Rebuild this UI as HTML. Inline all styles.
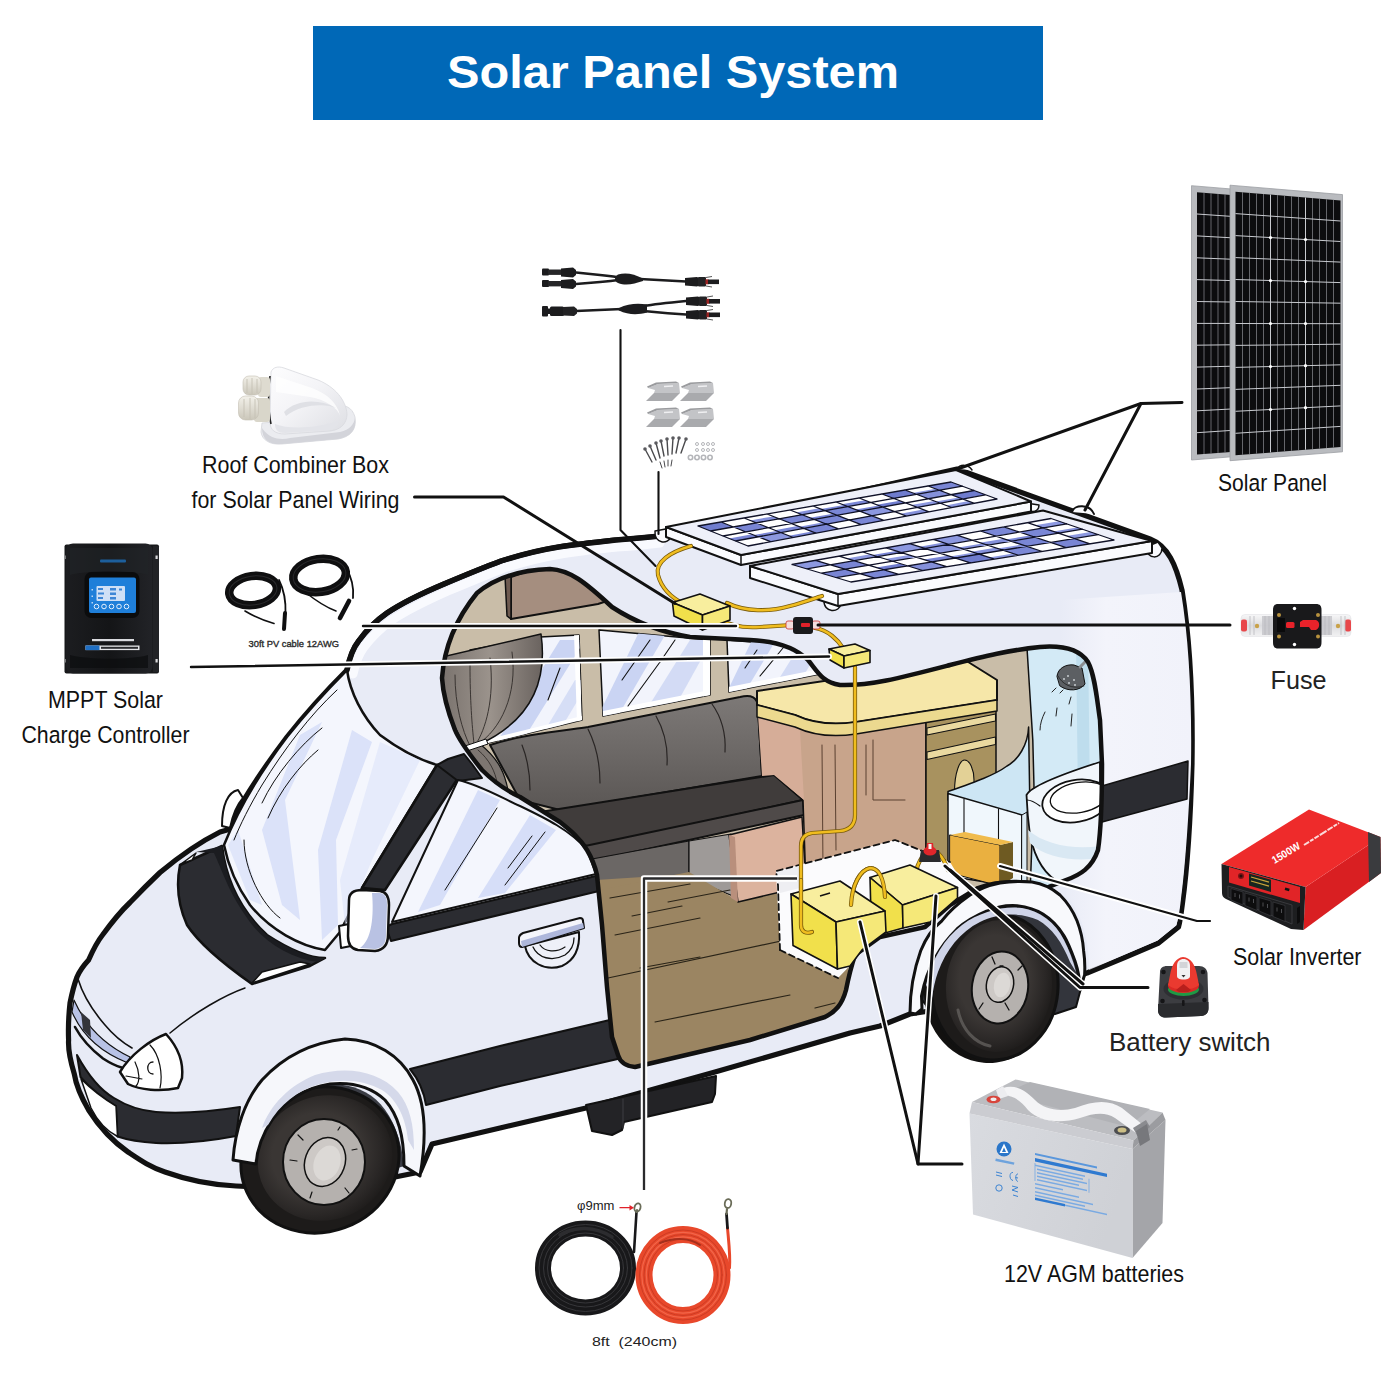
<!DOCTYPE html>
<html><head><meta charset="utf-8"><title>Solar Panel System</title>
<style>
html,body{margin:0;padding:0;background:#fff;}
body{width:1400px;height:1400px;overflow:hidden;font-family:"Liberation Sans",sans-serif;}
svg{display:block;}
text{font-family:"Liberation Sans",sans-serif;}
</style></head><body>
<svg width="1400" height="1400" viewBox="0 0 1400 1400">
<defs>
<linearGradient id="gGlass" x1="0" y1="0" x2="1" y2="0.4">
<stop offset="0" stop-color="#ffffff"/><stop offset="0.35" stop-color="#dfe5f8"/><stop offset="0.6" stop-color="#ffffff"/><stop offset="1" stop-color="#cfd8f4"/>
</linearGradient>
</defs>
<rect x="0" y="0" width="1400" height="1400" fill="#ffffff"/>
<!-- banner -->
<rect x="313" y="26" width="730" height="94" fill="#0068b7"/>
<text x="673" y="88" font-size="46" font-weight="bold" fill="#ffffff" text-anchor="middle" textLength="452" lengthAdjust="spacingAndGlyphs">Solar Panel System</text>
<!-- ===== VAN BODY ===== -->
<g id="van" stroke-linejoin="round" stroke-linecap="round">
<!-- body silhouette -->
<path id="bodyshape" d="M347,670 C350,655 353,648 358.600,641 C368,628 377,620 387,613 C405,601 425,592 444,584 C463,576 482,568 501,561 C520,555 540,550 558.600,547 C578,544 597,542 615.700,540 C630,539 643,538 660,536 L957,469 L1150,539
C1168,546 1176,565 1182,590 C1190,640 1193,700 1192,764 C1190.500,820 1187,870 1182.500,903 C1181,915 1180,922 1178.500,927 L1158.600,943 L1125.700,957 L1087,973
L1000,1000 L910,1014 L880,1026 L850,1033 L715,1072 L586,1108 L500,1128 L432,1144 L420,1172 L330,1190 L236,1186
C215,1185 190,1181 165,1172 C150,1167 140,1160 128,1152 C115,1143 100,1128 88.600,1110 C80,1095 76,1085 74.300,1074 C70,1060 68,1050 68.600,1040 C68,1025 69,1012 70,1003 C72,993 74,985 77,977 C80,970 84,965 88.600,960 C93,950 97,942 102.500,935 C112,922 120,912 130,902.500 C140,892 150,882 160,872.500 C175,860 200,842 220,832
L227,830 C240,805 262,770 287,737 C310,708 335,682 347,670 Z" fill="#e8ebf6" stroke="#111" stroke-width="5.2"/>

<!-- roof highlight + thick roof line -->
<path d="M353,674 C356,660 359,654 364,647 C373,635 382,627 392,620 C410,608 430,599 448,591 C467,583 486,575 504,568 C523,562 543,557 561,554 C580,551 599,549 617,547 C632,546 645,545 660,543" fill="none" stroke="#fbfcff" stroke-width="9" opacity=".9"/>
<path d="M347,670 C350,655 353,648 358.600,641 C368,628 377,620 387,613 C405,601 425,592 444,584 C463,576 482,568 501,561 C520,555 540,550 558.600,547 C578,544 597,542 615.700,540 C630,539 643,538 660,536" fill="none" stroke="#111" stroke-width="5.5"/>
<path d="M1150,539 C1168,546 1176,565 1182,590 C1190,640 1193,700 1192,764 C1190,830 1185,880 1177,914" fill="none" stroke="#fbfcff" stroke-width="0"/>
<!-- windshield glass -->
<path d="M347,670 C350,692 362,716 380,735 C400,750 420,760 437,765 L362,888 L340,932 L325,950 C300,946 270,930 250,905 C236,885 228,865 224,845 C240,805 262,770 287,737 C310,708 335,682 347,670Z" fill="#f4f6fd" stroke="#111" stroke-width="2.5"/>
<!-- glass streaks -->
<g fill="#dbe2f9" stroke="none">
<path d="M300,735 L322,722 L285,800 L300,920 L282,905 L262,830 Z"/>
<path d="M352,730 L372,742 L336,840 L338,925 L322,940 L318,850 Z"/>
<path d="M228,845 L238,830 L262,905 L250,900 Z" opacity=".8"/>
<path d="M380,742 L420,760 L372,860 L345,925 L340,880 Z" opacity=".55"/>
</g>
<path d="M337,690 C310,715 285,748 262,785 C250,805 240,825 234,840" fill="none" stroke="#111" stroke-width="1"/>
<g fill="none" stroke="#111" stroke-width="1">
<path d="M262,803 C275,775 300,745 322,728"/><path d="M268,818 C280,790 300,765 318,750"/>
<path d="M244,840 C244,870 262,905 280,918"/>
</g>
<!-- cowl -->
<path d="M180,865 L222,846 C226,880 240,910 267,935 C290,950 310,958 325,958 L310,966 L252,984 C225,965 200,945 187,925 C178,905 176,885 180,865Z" fill="#2b2c31" stroke="#111" stroke-width="2.5"/>
<path d="M196,852 L222,846 C226,880 240,910 267,935 C290,950 310,958 325,958 L318,962 C290,958 262,942 245,915 C228,890 222,870 214,853Z" fill="#1b1c20"/>
<path d="M252,983 L310,964 L300,962 L262,972Z" fill="#fff" stroke="#111" stroke-width="1.5"/>
<path d="M181,864 L196,853 L192,860Z" fill="#fff" stroke="#111" stroke-width="1.5"/>
<!-- far mirror -->
<path d="M222,826 C222,805 228,792 238,790 L243,798 C236,806 232,818 230,828Z" fill="#fff" stroke="#111" stroke-width="2"/>
<!-- A pillar + door window frame -->
<path d="M437,765 L460,775 L385,890 L362,888Z" fill="#2b2c31" stroke="#111" stroke-width="2.5"/>
<path d="M437,765 L448,759 L464,754 L472,764 L482,778 L458,781Z" fill="#2b2c31" stroke="#111" stroke-width="2"/>
<!-- door window glass -->
<path d="M458,780 C480,785 500,797 520,806 C545,818 570,830 587,850 L596,874 L392,922Z" fill="#f4f6fd" stroke="#111" stroke-width="2"/>
<g fill="#d6def8">
<path d="M478,790 L500,800 L440,905 L418,912Z"/>
<path d="M530,815 L556,830 L505,893 L478,898Z"/>
</g>
<g fill="none" stroke="#111" stroke-width="1"><path d="M497,808 L445,890"/><path d="M545,832 L505,885"/><path d="M532,836 L508,868"/></g>
<!-- beltline black stripe -->
<path d="M392,924 L596,876 L599,891 L391,941 L386,927Z" fill="#2b2c31" stroke="#111" stroke-width="2"/>
<!-- lower black stripe -->
<path d="M410,1069 L500,1046 L614,1019 L622,1058 L500,1086 L426,1105 C424,1092 419,1080 410,1069Z" fill="#2b2c31" stroke="#111" stroke-width="2"/>
<!-- bumper band -->
<path d="M77,1055 C88,1075 100,1090 114,1098 C130,1108 145,1111 156,1112 C185,1114 215,1111 240,1107 L236,1136 C210,1141 180,1144 156,1143 C140,1142 128,1140 117.500,1136.500 L116,1106 C102,1098 90,1088 80.500,1077Z" fill="#2b2c31" stroke="#111" stroke-width="2"/>
<path d="M81,1079 C92,1090 104,1099 116,1106 L117.500,1136.500 C105,1130 97,1120 91,1108Z" fill="#fff" stroke="#111" stroke-width="1.5"/>
<!-- grille -->
<path d="M74,1000 C85,1025 105,1045 130,1057 L128,1063 C100,1052 82,1035 72,1012Z" fill="#b8c2e6" stroke="#111" stroke-width="1.2"/>
<path d="M81,1012 L90,1020 L91,1038 L83,1030Z" fill="#33343a"/>
<path d="M75,1027 C82,1040 92,1050 103,1058.500 C110,1063 116,1066 121.500,1067.500" fill="none" stroke="#111" stroke-width="2.600"/>
<path d="M78,979 C82,992 92,1010 105,1025 C115,1037 125,1044 132,1048" fill="none" stroke="#111" stroke-width="1.600"/>
<!-- hood crease -->
<path d="M245,988 C225,995 195,1012 170,1033" fill="none" stroke="#111" stroke-width="1.5"/>
<!-- headlight -->
<path d="M120,1072 C130,1055 150,1040 166,1034 C176,1045 184,1060 182,1078 L178,1088 C160,1092 140,1090 128,1084Z" fill="#fff" stroke="#111" stroke-width="2.5"/>
<path d="M150,1045 C160,1055 163,1075 160,1088" fill="none" stroke="#111" stroke-width="1.2"/>
<path d="M135,1062 C140,1072 140,1082 136,1086 M126,1076 L142,1079" fill="none" stroke="#111" stroke-width="1.2"/>
<path d="M153,1062 C146,1062 146,1074 153,1074" fill="none" stroke="#111" stroke-width="1.3"/>
<!-- near mirror -->
<path d="M339,926 L349,924 L351,946 L341,948Z" fill="#fff" stroke="#111" stroke-width="2"/>
<path d="M349,900 C349,893 354,890 362,890 L380,891 C387,892 389,897 389,905 L388,935 C388,945 384,950 375,951 L358,950 C351,949 348,944 348,936Z" fill="#fff" stroke="#111" stroke-width="2.5"/>
<path d="M372,893 L380,893 C386,894 387,898 387,905 L386,935 C386,943 383,948 375,949 L360,948 C372,940 374,915 372,893Z" fill="#b9c2e3"/>
<!-- door handle -->
<path d="M525,946 C528,962 545,972 562,966 C575,960 580,948 579,932Z" fill="#eef0f8" stroke="#111" stroke-width="2"/>
<path d="M533,947 C538,958 552,962 565,955 C572,950 574,944 574,938" fill="none" stroke="#111" stroke-width="1.3"/>
<path d="M540,945 C545,952 556,953 565,947" fill="none" stroke="#111" stroke-width="1.2"/>
<path d="M519,938 C519,935 521,934 523,933 L580,918 C582,918 583,919 583,921 L584,928 L522,947 C520,947 519,945 519,943Z" fill="#f4f5fb" stroke="#111" stroke-width="2"/>
<path d="M521,941 L583,923 L584,928 L522,947Z" fill="#aeb7db"/>
<defs><linearGradient id="gRear" x1="0" y1="0" x2="1" y2="0"><stop offset="0" stop-color="#f3f4fb" stop-opacity="0"/><stop offset="0.35" stop-color="#f3f4fb" stop-opacity="1"/><stop offset="1" stop-color="#f1f2fa" stop-opacity="1"/></linearGradient></defs>
<path d="M1060,600 L1181,592 C1189,640 1192,700 1191,764 C1188.500,820 1185,870 1180.500,903 C1179,915 1178,920 1176.500,925 L1157.600,940.500 L1125,954.500 L1089,970 C1090,940 1080,910 1066,895 L1066,880 C1090,872 1098,860 1100,840 L1102,764 L1100,720 C1097,690 1095,670 1088,662 C1080,650 1070,646 1060,646Z" fill="url(#gRear)"/>
<!-- rear stripe -->
<path d="M1102,786 L1188,761 L1187,799 L1102,822Z" fill="#2b2c31" stroke="#111" stroke-width="1.5"/>
</g>
<!-- ===== CUTAWAY INTERIOR ===== -->
<defs>
<path id="cutpath" d="M442,678 C444,650 455,620 477,593 C495,578 520,570 550,569 C570,570 585,582 612,607 C635,622 660,632 690,637 L750,640 C775,641 795,647 808,660 C818,672 822,682 840,685 C870,686 900,678 950,665 C985,656 1010,650 1040,647 C1065,645 1080,650 1088,662 C1095,675 1097,700 1100,720 L1102,764 C1102,800 1101,830 1098,850 C1092,868 1080,875 1066,880 L1046,888 C1030,880 1000,880 978,888 L950,905 L925,927 L880,937 L855,955 C850,970 848,980 846,990 C842,1005 835,1012 825,1017 L750,1040 L635,1067 C625,1066 620,1062 618,1055 L612,1037 L607,987 L602,925 L597,875 C594,862 590,855 587,850 C580,838 570,830 560,822 L520,797 C505,790 492,780 482,770 C470,755 460,742 455,730 C448,712 443,695 442,678Z"/>
<clipPath id="cutclip"><use href="#cutpath"/></clipPath>
<linearGradient id="gBack" x1="0" y1="0" x2="0" y2="1"><stop offset="0" stop-color="#7d7977"/><stop offset="0.5" stop-color="#6c6866"/><stop offset="1" stop-color="#5a5654"/></linearGradient>
<linearGradient id="gWin" x1="0" y1="0" x2="1" y2="1"><stop offset="0" stop-color="#ffffff"/><stop offset="0.45" stop-color="#e9edfb"/><stop offset="0.55" stop-color="#ccd5f3"/><stop offset="0.7" stop-color="#f5f7fe"/><stop offset="1" stop-color="#c9d3f2"/></linearGradient>
<linearGradient id="gCurt" x1="0" y1="0" x2="1" y2="0"><stop offset="0" stop-color="#77706b"/><stop offset="0.5" stop-color="#9b938c"/><stop offset="1" stop-color="#6a635f"/></linearGradient>
</defs>
<g clip-path="url(#cutclip)" stroke-linejoin="round" stroke-linecap="round">
<rect x="430" y="560" width="700" height="520" fill="#c9bda8"/>
<!-- overhead cabinet -->
<path d="M511,577 L560,560 L610,600 L598,604 L511,619Z" fill="#a58e7f" stroke="#111" stroke-width="2"/>
<path d="M505,576 L511,577 L511,619 L507,616Z" fill="#6e5a50" stroke="#111" stroke-width="1.5"/>
<!-- windows -->
<clipPath id="w1c"><path d="M470,650 L540,637 L579,635 L582,720 L480,745Z"/></clipPath>
<clipPath id="w2c"><path d="M599,630 L710,640 L710,695 L603,716Z"/></clipPath>
<clipPath id="w3c"><path d="M727,640 L830,648 L830,672 L729,692Z"/></clipPath>
<path d="M470,650 L540,637 L579,635 L582,720 L480,745Z" fill="#f2f4fc" stroke="#111" stroke-width="1.500"/>
<g clip-path="url(#w1c)"><path d="M560,640 L585,640 L520,745 L495,745Z" fill="#cad4f3"/><path d="M575,680 L590,680 L560,730 L545,730Z" fill="#cad4f3" opacity=".7"/>
<path d="M574,634 L579,634 L582,721 L577,722Z" fill="#fff"/><path d="M480,741 L582,716 L582,721 L480,746Z" fill="#fff"/></g>
<path d="M599,630 L710,640 L710,695 L603,716Z" fill="#f2f4fc" stroke="#111" stroke-width="1.500"/>
<g clip-path="url(#w2c)"><path d="M640,630 L668,630 L618,716 L598,716Z" fill="#cad4f3"/><path d="M690,640 L712,640 L672,712 L645,712Z" fill="#cad4f3" opacity=".8"/>
<path d="M703,638 L710,638 L710,696 L703,697Z" fill="#fff"/><path d="M603,711 L710,690 L710,696 L603,717Z" fill="#fff"/></g>
<path d="M727,640 L830,648 L830,672 L729,692Z" fill="#f2f4fc" stroke="#111" stroke-width="1.500"/>
<g clip-path="url(#w3c)"><path d="M752,640 L776,640 L745,692 L727,692Z" fill="#cad4f3"/><path d="M800,645 L822,645 L795,690 L772,690Z" fill="#cad4f3" opacity=".8"/>
<path d="M729,687 L830,667 L830,673 L729,693Z" fill="#fff"/></g>
<g stroke="#111" stroke-width="1.100" fill="none"><path d="M650,640 L622,680"/><path d="M675,640 L660,662"/><path d="M660,662 L628,706"/><path d="M560,668 L548,700"/><path d="M757,650 L745,668"/><path d="M783,648 L760,676"/></g>
<!-- curtain -->
<path d="M438,658 L541,634 C549,690 522,725 478,745 L466,748 C450,720 436,690 438,658Z" fill="url(#gCurt)" stroke="#111" stroke-width="1.5"/>
<path d="M466,748 L480,744 C500,760 505,775 508,790 L480,775 C470,765 465,757 466,748Z" fill="#7d7671" stroke="#111" stroke-width="1.2"/>
<g stroke="#3a3532" stroke-width="1" fill="none"><path d="M470,665 C470,700 472,725 474,744"/><path d="M490,658 C495,700 485,730 476,744"/><path d="M512,652 C518,695 500,730 478,744"/><path d="M455,675 C455,705 462,730 470,746"/><path d="M478,750 C490,760 495,772 497,782"/></g>
<path d="M465,746 L486,739 L488,744 L467,751Z" fill="#fff" stroke="#111" stroke-width="1"/>
<!-- bench back -->
<path d="M490,745 C520,735 560,731 588,727 L740,697 C752,694 757,698 758,706 L762,776 L560,810 L520,800Z" fill="url(#gBack)" stroke="#111" stroke-width="2"/>
<g stroke="#2a2625" stroke-width="1.2" fill="none"><path d="M588,729 C596,745 600,765 600,783"/><path d="M656,716 C664,730 668,748 667,765"/><path d="M712,704 C722,718 726,735 725,752"/><path d="M522,745 C528,760 530,775 530,790"/></g>
<!-- seat top -->
<path d="M540,812 L774,775 L803,800 L588,847Z" fill="#403c3b" stroke="#111" stroke-width="2"/>
<path d="M585,846 L803,800 L804,815 L592,861Z" fill="#4f4a49" stroke="#111" stroke-width="2"/>
<!-- bench base -->
<path d="M592,859 L689,841 L689,883 L604,896Z" fill="#6b6765" stroke="#111" stroke-width="1.2"/>
<path d="M689,841 L731,834 L733,896 L689,878Z" fill="#9e9a98" stroke="#111" stroke-width="1.2"/>
<!-- floor -->
<path d="M596,880 L689,874 L738,902 L806,886 L846,900 L850,1030 L600,1085Z" fill="#9b8562"/>
<path d="M600,890 L689,872 L740,902 L810,884 L780,870 L780,950 L850,990 L850,1045 L600,1090Z" fill="#9b8562"/>
<g stroke="#2a2418" stroke-width="1.2" fill="none"><path d="M610,898 L690,884"/><path d="M632,916 L682,906"/><path d="M668,902 L730,890"/><path d="M615,935 L700,918"/><path d="M640,968 L700,957"/><path d="M655,1022 L790,995"/><path d="M608,978 L795,938"/><path d="M815,1008 L835,1003"/></g>
<!-- pink cabinet -->
<path d="M729,835 L802,817 L806,886 L738,902Z" fill="#dcb39e" stroke="#111" stroke-width="1.5"/>
<path d="M729,835 L735,837 L738,902 L731,898Z" fill="#b98f7c"/>
<!-- big cabinet body -->
<path d="M757,700 L926,690 L926,880 L806,886 L803,800 L774,775 L762,776Z" fill="#c8a48b" stroke="#111" stroke-width="1.5"/>
<path d="M757,700 L800,730 L804,800 L774,775 L762,776Z" fill="#d6ad98"/>
<g stroke="#5a4030" stroke-width="1" fill="none"><path d="M822,745 L823,870"/><path d="M835,745 L836,850"/><path d="M873,740 L873,800 L905,800"/><path d="M866,745 L866,795"/></g>
<!-- drawer unit -->
<path d="M926,700 L996,690 L996,860 L926,870Z" fill="#a8925f" stroke="#111" stroke-width="1.500"/>
<path d="M927,728 L995.500,714 L995.500,721 L927,735Z" fill="#ead9a0" stroke="#111" stroke-width="1.100"/>
<path d="M927,752 L995.500,737 L995.500,744.500 L927,759.500Z" fill="#ead9a0" stroke="#111" stroke-width="1.100"/>
<path d="M927,722 L995.500,708" stroke="#6e5c30" stroke-width="1" fill="none"/>
<path d="M954.500,792 C954.500,772 960,760 964.500,760 C970,760 974,770 974,780 L974,800 L954.500,806Z" fill="#e3d196" stroke="#111" stroke-width="1.100"/>
<!-- countertop -->
<path d="M757,691 L965,660 L997,680 L997,700 L856,722 C830,726 810,722 795,715 L757,705Z" fill="#f6e7a9" stroke="#111" stroke-width="2"/>
<path d="M757,705 L795,715 C810,722 830,726 856,722 L997,700 L997,711 L856,734 C830,738 810,734 795,727 L757,717Z" fill="#ecd98f" stroke="#111" stroke-width="1.5"/>
<!-- bathroom -->
<path d="M1026.500,640 L1110,640 L1110,895 L1030,895 L1034,787 L1032.800,740Z" fill="#d3eaf6" stroke="#111" stroke-width="1.500"/>
<path d="M1076,640 L1088,640 L1090,800 L1078,800Z" fill="#bedded"/>
<!-- bath top (curved) -->
<path d="M1028.600,727 C1028,745 1018,760 1007,766 C995,775 975,782 948,791.500 L948,800 L1022,818 L1030,815Z" fill="#cde6f4" stroke="#111" stroke-width="1.500"/>
<!-- shower -->
<path d="M1057,676 C1058,668 1066,664 1074,665 L1082,668 L1085,684 C1080,691 1068,692 1060,686Z" fill="#5c5f63" stroke="#111" stroke-width="1"/>
<path d="M1058,676 C1062,684 1072,690 1084,686" fill="none" stroke="#222" stroke-width="0.800"/>
<g fill="#c9cdd1"><circle cx="1064" cy="679" r="1"/><circle cx="1069" cy="683" r="1"/><circle cx="1075" cy="685" r="1"/><circle cx="1068" cy="676" r="1"/><circle cx="1074" cy="680" r="1"/></g>
<path d="M1080,667 L1089,658" stroke="#8b8e92" stroke-width="3"/>
<g stroke="#222" stroke-width="1" fill="none"><path d="M1052,692 L1056,688"/><path d="M1060,693 L1063,690"/><path d="M1071,697 L1069,704"/><path d="M1057,708 L1056,716"/><path d="M1072,714 L1071,726"/><path d="M1045,712 C1042,718 1040,724 1040,730"/></g>
<!-- bath low wall -->
<path d="M948,793.500 L1022,815 L1022,888 L948,876Z" fill="#f0f7fc" stroke="#111" stroke-width="1.500"/>
<path d="M1022,815 L1027,812 L1027,888 L1022,888Z" fill="#dcebf4" stroke="#111" stroke-width="1"/>
<path d="M964,799 L964,850 M998.500,809 L998.500,860" stroke="#111" stroke-width="1.100" fill="none"/>
<!-- toilet -->
<path d="M1026.500,795 C1030,788 1050,778 1100,762 L1100,892 L1062,884 C1045,876 1035,860 1030,835 C1028,820 1027,808 1026.500,795Z" fill="#f1f6fb" stroke="#111" stroke-width="1.800"/>
<path d="M1028,830 C1045,845 1075,850 1100,846 L1100,858 C1075,862 1045,858 1030,843Z" fill="#d9e8f3"/>
<ellipse cx="1076" cy="801" rx="34" ry="21" fill="#fff" stroke="#111" stroke-width="1.800" transform="rotate(-10 1076 801)"/>
<ellipse cx="1079" cy="797.500" rx="29" ry="15" fill="#fff" stroke="#111" stroke-width="1.300" transform="rotate(-10 1079 797.500)"/>
<path d="M1027,800 C1031,800 1036,803 1040,806" stroke="#111" stroke-width="1.200" fill="none"/>
<!-- orange box -->
<path d="M950,835 L1000,845 L1000,886 L950,873Z" fill="#eab040" stroke="#111" stroke-width="1"/>
<path d="M1000,845 L1013,842 L1013,878 L1000,886Z" fill="#6e5a22"/>
<path d="M950,835 L965,832 L1013,842 L1000,845Z" fill="#f0bb4c"/>
<!-- white battery compartment -->
<path d="M776,871 L895,840 L950,862 L968,892 L940,925 L870,945 L838,978 L780,950Z" fill="#fbfbfd"/>
<path d="M776,871 L800,866 L800,888 L780,893Z" fill="#eeeef2"/>
<path d="M780,950 L778,885 L776,871 L895,840 L950,862" fill="none" stroke="#111" stroke-width="1.8" stroke-dasharray="6 4"/>
<path d="M780,950 L838,978" fill="none" stroke="#111" stroke-width="1.8" stroke-dasharray="6 4"/>
</g>
<use href="#cutpath" fill="none" stroke="#111" stroke-width="4.5" stroke-linejoin="round"/>
<!-- ===== WHEELS & FENDERS ===== -->
<defs>
<radialGradient id="gTire" cx="0.45" cy="0.45" r="0.6"><stop offset="0.55" stop-color="#3a3634"/><stop offset="0.8" stop-color="#2a2726"/><stop offset="1" stop-color="#1b1918"/></radialGradient>
</defs>
<g stroke-linejoin="round" stroke-linecap="round">
<!-- rear wheel well -->
<path d="M922,1000 C928,955 950,925 987,911 C1010,903 1030,906 1043,914 C1055,922 1066,938 1075,961 C1080,975 1082,985 1084,977 L1076,1007 L1055,1014 L940,1022Z" fill="#33353c" stroke="#111" stroke-width="2"/>
<!-- rear tire -->
<ellipse cx="990" cy="990" rx="66" ry="73" fill="#121110" transform="rotate(5 990 990)"/>
<ellipse cx="995" cy="987" rx="63" ry="73" fill="#1d1b1a" stroke="#111" stroke-width="3" transform="rotate(5 995 987)"/>
<ellipse cx="999" cy="986" rx="53" ry="66" fill="url(#gTire)" transform="rotate(5 999 986)"/>
<path d="M958,1010 C962,1030 975,1043 990,1046" fill="none" stroke="#6a6664" stroke-width="3" stroke-linecap="round" opacity=".7"/>
<ellipse cx="1000" cy="987.500" rx="28" ry="36" fill="#b5b1ae" stroke="#111" stroke-width="2" transform="rotate(8 1000 987.500)"/>
<ellipse cx="1000" cy="984.500" rx="13.500" ry="18" fill="#cdc9c6" stroke="#111" stroke-width="1.500" transform="rotate(12 1000 984.500)"/>
<ellipse cx="1002" cy="985" rx="8" ry="12.500" fill="#dcd9d6" transform="rotate(12 1002 985)"/>
<g stroke="#111" stroke-width="1.300"><path d="M992,957 L995,964"/><path d="M1018,970 L1022,966"/><path d="M1005,1003 L1009,1010"/><path d="M983,1003 L979,1009"/><path d="M1000,966 L1003,966"/></g>
<!-- rear fender flare -->
<path d="M910,1013 C910,995 912,975 920.700,950.700 C927,935 934,927 942,920.700 C950,910 960,902 970,895 C980,888 990,885 1000,883 C1012,881 1022,881 1032,882 C1045,884 1053,889 1060,895 C1068,903 1073,911 1077,920.700 C1081,931 1083,941 1083.600,950.700 C1085,960 1085,968 1084.600,975 L1080,989 C1080,980 1078,970 1075,961 C1071,950 1068,942 1064,935.700 C1058,926 1051,919 1042.900,914 C1035,909 1027,907 1017,905.700 C1006,905 996,907 987,911 C975,916 965,922 957,929 C948,938 941,947 935.700,957 C928,970 924,983 921.500,996 L922,1009 L916,1014Z" fill="#f8f9fc" stroke="#111" stroke-width="3"/>
<path d="M926,985 C932,958 945,938 962,925 C980,912 1002,906 1022,908 C1040,911 1055,922 1064,940 C1069,950 1073,960 1076,972 L1070,962 C1062,942 1052,928 1038,920 C1020,912 998,913 980,922 C960,932 946,950 938,972 C935,980 933,990 932,998Z" fill="#cfd4e8"/>
<!-- front wheel well -->
<path d="M255,1163 C258,1125 285,1095 325,1085 C365,1080 398,1105 404,1166 L330,1190Z" fill="#3a3c44"/>
<!-- front tire -->
<ellipse cx="320" cy="1160" rx="80" ry="72" fill="#1d1b1a" stroke="#111" stroke-width="3" transform="rotate(-20 320 1160)"/>
<ellipse cx="325" cy="1158" rx="68" ry="62" fill="url(#gTire)" transform="rotate(-20 325 1158)"/>
<ellipse cx="324" cy="1162" rx="41" ry="43" fill="#b5b1ae" stroke="#111" stroke-width="2"/>
<ellipse cx="325" cy="1162" rx="20" ry="25" fill="#cdc9c6" stroke="#111" stroke-width="1.5" transform="rotate(20 325 1162)"/>
<ellipse cx="327" cy="1163" rx="13" ry="18" fill="#dcd9d6" transform="rotate(20 327 1163)"/>
<g stroke="#111" stroke-width="1.2"><path d="M298,1135 L303,1140"/><path d="M290,1160 L297,1161"/><path d="M352,1150 L357,1149"/><path d="M345,1188 L349,1193"/><path d="M312,1192 L310,1198"/><path d="M338,1130 L340,1127"/></g>
<!-- front fender flare -->
<path d="M233,1160 C235,1130 245,1100 262,1080 C285,1055 315,1042 345,1039 C375,1040 400,1055 413,1080 C424,1100 428,1130 420,1176 L404,1166 C404,1135 398,1115 385,1100 C370,1086 350,1082 330,1084 C305,1088 285,1100 272,1120 C262,1135 257,1150 256,1164Z" fill="#f6f7fb" stroke="#111" stroke-width="3"/>
<path d="M262,1128 C270,1105 290,1085 315,1075 C345,1066 378,1070 398,1092 C410,1106 414,1125 414,1150 L408,1140 C406,1120 398,1100 382,1090 C365,1080 340,1078 320,1084 C298,1090 280,1104 268,1125Z" fill="#d5d9ea"/>
<!-- step -->
<path d="M586,1105 L716,1076 L715,1094 L712,1102 L624,1122 L622,1130 L612,1135 L592,1131Z" fill="#232326" stroke="#111" stroke-width="2"/><path d="M623,1099 L623,1128" stroke="#3a3a3e" stroke-width="1.2"/>
</g>
<!-- ===== ROOF PANELS ===== -->
<g stroke-linejoin="round" stroke-linecap="round">
<path d="M655,531 C654,543 668,546 671,536 L671,528Z" fill="#fafbfe" stroke="#111" stroke-width="1.5"/>
<path d="M1026,503 C1026,514 1039,514 1039,505Z" fill="#fafbfe" stroke="#111" stroke-width="1.5"/>
<path d="M957,469 C960,464 968,464 972,470" fill="#fafbfe" stroke="#111" stroke-width="1.5"/>
<path d="M666.0,527.0 L741.0,555.0 L1031.0,501.5 L1031.0,511.5 L741.0,565.0 L666.0,537.0Z" fill="#fafbfe" stroke="#111" stroke-width="2"/>
<path d="M741.0,555.0 L741.0,565.0" stroke="#111" stroke-width="1.5"/>
<path d="M666.0,527.0 L741.0,555.0 L1031.0,501.5 L956.0,470.0Z" fill="#eef0f9" stroke="#111" stroke-width="2"/>
<path d="M698.0,526.0 L721.0,522.0 L733.4,526.9 L710.5,531.0Z" fill="#6f7cce"/>
<path d="M710.5,531.0 L733.4,526.9 L745.8,531.9 L723.0,536.0Z" fill="#ffffff"/>
<path d="M723.0,536.0 L745.8,531.9 L758.2,536.8 L735.5,541.0Z" fill="#7985d4"/>
<path d="M723.0,536.0 L745.8,531.9 L752.0,534.3 L729.2,538.5Z" fill="#ffffff"/>
<path d="M735.5,541.0 L758.2,536.8 L770.6,541.7 L748.0,546.0Z" fill="#ffffff"/>
<path d="M721.0,522.0 L744.0,518.0 L756.3,522.9 L733.4,526.9Z" fill="#ffffff"/>
<path d="M733.4,526.9 L756.3,522.9 L768.6,527.7 L745.8,531.9Z" fill="#7985d4"/>
<path d="M745.8,531.9 L768.6,527.7 L781.0,532.6 L758.2,536.8Z" fill="#ffffff"/>
<path d="M753.9,535.1 L776.6,530.9 L781.0,532.6 L758.2,536.8Z" fill="#7985d4"/>
<path d="M758.2,536.8 L781.0,532.6 L793.3,537.5 L770.6,541.7Z" fill="#8c98e0"/>
<path d="M744.0,518.0 L767.0,514.0 L779.2,518.8 L756.3,522.9Z" fill="#8490da"/>
<path d="M744.0,518.0 L767.0,514.0 L773.1,516.4 L750.2,520.4Z" fill="#ffffff"/>
<path d="M756.3,522.9 L779.2,518.8 L791.5,523.6 L768.6,527.7Z" fill="#ffffff"/>
<path d="M768.6,527.7 L791.5,523.6 L803.7,528.4 L781.0,532.6Z" fill="#7a87d6"/>
<path d="M768.6,527.7 L791.5,523.6 L797.6,526.0 L774.8,530.2Z" fill="#ffffff"/>
<path d="M781.0,532.6 L803.7,528.4 L815.9,533.2 L793.3,537.5Z" fill="#ffffff"/>
<path d="M789.0,535.8 L811.6,531.5 L815.9,533.2 L793.3,537.5Z" fill="#7a87d6"/>
<path d="M767.0,514.0 L790.0,510.0 L802.1,514.7 L779.2,518.8Z" fill="#ffffff"/>
<path d="M779.2,518.8 L802.1,514.7 L814.3,519.5 L791.5,523.6Z" fill="#7a87d6"/>
<path d="M791.5,523.6 L814.3,519.5 L826.4,524.2 L803.7,528.4Z" fill="#ffffff"/>
<path d="M799.4,526.7 L822.2,522.5 L826.4,524.2 L803.7,528.4Z" fill="#8490da"/>
<path d="M803.7,528.4 L826.4,524.2 L838.5,528.9 L815.9,533.2Z" fill="#7985d4"/>
<path d="M790.0,510.0 L813.0,506.0 L825.0,510.7 L802.1,514.7Z" fill="#8490da"/>
<path d="M790.0,510.0 L813.0,506.0 L819.0,508.3 L796.1,512.4Z" fill="#ffffff"/>
<path d="M802.1,514.7 L825.0,510.7 L837.1,515.3 L814.3,519.5Z" fill="#ffffff"/>
<path d="M810.0,517.8 L832.9,513.7 L837.1,515.3 L814.3,519.5Z" fill="#7985d4"/>
<path d="M814.3,519.5 L837.1,515.3 L849.1,520.0 L826.4,524.2Z" fill="#7a87d6"/>
<path d="M826.4,524.2 L849.1,520.0 L861.2,524.6 L838.5,528.9Z" fill="#ffffff"/>
<path d="M813.0,506.0 L836.0,502.0 L848.0,506.6 L825.0,510.7Z" fill="#ffffff"/>
<path d="M820.8,509.0 L843.8,505.0 L848.0,506.6 L825.0,510.7Z" fill="#7a87d6"/>
<path d="M825.0,510.7 L848.0,506.6 L859.9,511.2 L837.1,515.3Z" fill="#7a87d6"/>
<path d="M837.1,515.3 L859.9,511.2 L871.9,515.8 L849.1,520.0Z" fill="#ffffff"/>
<path d="M849.1,520.0 L871.9,515.8 L883.8,520.4 L861.2,524.6Z" fill="#7a87d6"/>
<path d="M836.0,502.0 L859.0,498.0 L870.9,502.5 L848.0,506.6Z" fill="#7a87d6"/>
<path d="M836.0,502.0 L859.0,498.0 L864.9,500.3 L842.0,504.3Z" fill="#ffffff"/>
<path d="M848.0,506.6 L870.9,502.5 L882.7,507.0 L859.9,511.2Z" fill="#ffffff"/>
<path d="M855.7,509.6 L878.6,505.5 L882.7,507.0 L859.9,511.2Z" fill="#7a87d6"/>
<path d="M859.9,511.2 L882.7,507.0 L894.6,511.6 L871.9,515.8Z" fill="#8c98e0"/>
<path d="M871.9,515.8 L894.6,511.6 L906.5,516.1 L883.8,520.4Z" fill="#ffffff"/>
<path d="M859.0,498.0 L882.0,494.0 L893.8,498.5 L870.9,502.5Z" fill="#ffffff"/>
<path d="M870.9,502.5 L893.8,498.5 L905.5,502.9 L882.7,507.0Z" fill="#6f7cce"/>
<path d="M870.9,502.5 L893.8,498.5 L899.7,500.7 L876.8,504.8Z" fill="#ffffff"/>
<path d="M882.7,507.0 L905.5,502.9 L917.3,507.4 L894.6,511.6Z" fill="#ffffff"/>
<path d="M894.6,511.6 L917.3,507.4 L929.1,511.8 L906.5,516.1Z" fill="#8490da"/>
<path d="M894.6,511.6 L917.3,507.4 L923.2,509.6 L900.5,513.8Z" fill="#ffffff"/>
<path d="M882.0,494.0 L905.0,490.0 L916.7,494.4 L893.8,498.5Z" fill="#6f7cce"/>
<path d="M893.8,498.5 L916.7,494.4 L928.4,498.8 L905.5,502.9Z" fill="#ffffff"/>
<path d="M905.5,502.9 L928.4,498.8 L940.0,503.2 L917.3,507.4Z" fill="#8c98e0"/>
<path d="M905.5,502.9 L928.4,498.8 L934.2,501.0 L911.4,505.1Z" fill="#ffffff"/>
<path d="M917.3,507.4 L940.0,503.2 L951.7,507.5 L929.1,511.8Z" fill="#ffffff"/>
<path d="M905.0,490.0 L928.0,486.0 L939.6,490.3 L916.7,494.4Z" fill="#ffffff"/>
<path d="M912.6,492.9 L935.5,488.8 L939.6,490.3 L916.7,494.4Z" fill="#8c98e0"/>
<path d="M916.7,494.4 L939.6,490.3 L951.2,494.6 L928.4,498.8Z" fill="#8490da"/>
<path d="M928.4,498.8 L951.2,494.6 L962.8,499.0 L940.0,503.2Z" fill="#ffffff"/>
<path d="M936.0,501.6 L958.7,497.4 L962.8,499.0 L940.0,503.2Z" fill="#8c98e0"/>
<path d="M940.0,503.2 L962.8,499.0 L974.4,503.3 L951.7,507.5Z" fill="#8c98e0"/>
<path d="M940.0,503.2 L962.8,499.0 L968.6,501.1 L945.9,505.4Z" fill="#ffffff"/>
<path d="M928.0,486.0 L951.0,482.0 L962.5,486.2 L939.6,490.3Z" fill="#7985d4"/>
<path d="M939.6,490.3 L962.5,486.2 L974.0,490.5 L951.2,494.6Z" fill="#ffffff"/>
<path d="M951.2,494.6 L974.0,490.5 L985.5,494.8 L962.8,499.0Z" fill="#6f7cce"/>
<path d="M962.8,499.0 L985.5,494.8 L997.0,499.0 L974.4,503.3Z" fill="#ffffff"/>
<path d="M698.0,526.0 L748.0,546.0 M721.0,522.0 L770.6,541.7 M744.0,518.0 L793.3,537.5 M767.0,514.0 L815.9,533.2 M790.0,510.0 L838.5,528.9 M813.0,506.0 L861.2,524.6 M836.0,502.0 L883.8,520.4 M859.0,498.0 L906.5,516.1 M882.0,494.0 L929.1,511.8 M905.0,490.0 L951.7,507.5 M928.0,486.0 L974.4,503.3 M951.0,482.0 L997.0,499.0 M698.0,526.0 L951.0,482.0 M710.5,531.0 L962.5,486.2 M723.0,536.0 L974.0,490.5 M735.5,541.0 L985.5,494.8 M748.0,546.0 L997.0,499.0" fill="none" stroke="#101228" stroke-width="1.3"/>
<path d="M824,600 C823,613 840,614 841,603 L838,596Z" fill="#fafbfe" stroke="#111" stroke-width="1.5"/>
<path d="M1146,547 C1146,560 1162,560 1162,548 L1158,542Z" fill="#fafbfe" stroke="#111" stroke-width="1.5"/>
<path d="M1072,512 C1074,504 1090,504 1094,514" fill="#fafbfe" stroke="#111" stroke-width="2"/>
<path d="M750.0,566.0 L838.0,594.0 L1152.0,541.0 L1152.0,553.0 L838.0,606.0 L750.0,578.0Z" fill="#fafbfe" stroke="#111" stroke-width="2"/>
<path d="M838.0,594.0 L838.0,606.0" stroke="#111" stroke-width="1.5"/>
<path d="M750.0,566.0 L838.0,594.0 L1152.0,541.0 L1043.0,510.5Z" fill="#eef0f9" stroke="#111" stroke-width="2"/>
<path d="M792.0,564.5 L815.5,560.3 L830.4,564.8 L806.8,568.9Z" fill="#8c98e0"/>
<path d="M806.8,568.9 L830.4,564.8 L845.2,569.2 L821.5,573.2Z" fill="#ffffff"/>
<path d="M821.5,573.2 L845.2,569.2 L860.1,573.7 L836.2,577.6Z" fill="#7985d4"/>
<path d="M836.2,577.6 L860.1,573.7 L874.9,578.2 L851.0,582.0Z" fill="#ffffff"/>
<path d="M815.5,560.3 L839.1,556.1 L854.0,560.7 L830.4,564.8Z" fill="#ffffff"/>
<path d="M830.4,564.8 L854.0,560.7 L869.0,565.2 L845.2,569.2Z" fill="#7985d4"/>
<path d="M845.2,569.2 L869.0,565.2 L883.9,569.8 L860.1,573.7Z" fill="#ffffff"/>
<path d="M860.1,573.7 L883.9,569.8 L898.8,574.4 L874.9,578.2Z" fill="#7a87d6"/>
<path d="M839.1,556.1 L862.6,552.0 L877.7,556.6 L854.0,560.7Z" fill="#8c98e0"/>
<path d="M839.1,556.1 L862.6,552.0 L870.1,554.3 L846.6,558.4Z" fill="#ffffff"/>
<path d="M854.0,560.7 L877.7,556.6 L892.7,561.2 L869.0,565.2Z" fill="#ffffff"/>
<path d="M869.0,565.2 L892.7,561.2 L907.7,565.9 L883.9,569.8Z" fill="#6f7cce"/>
<path d="M869.0,565.2 L892.7,561.2 L900.2,563.6 L876.4,567.5Z" fill="#ffffff"/>
<path d="M883.9,569.8 L907.7,565.9 L922.7,570.5 L898.8,574.4Z" fill="#ffffff"/>
<path d="M862.6,552.0 L886.2,547.8 L901.3,552.5 L877.7,556.6Z" fill="#ffffff"/>
<path d="M872.4,555.0 L896.0,550.9 L901.3,552.5 L877.7,556.6Z" fill="#7985d4"/>
<path d="M877.7,556.6 L901.3,552.5 L916.4,557.2 L892.7,561.2Z" fill="#8c98e0"/>
<path d="M877.7,556.6 L901.3,552.5 L908.9,554.9 L885.2,558.9Z" fill="#ffffff"/>
<path d="M892.7,561.2 L916.4,557.2 L931.5,562.0 L907.7,565.9Z" fill="#ffffff"/>
<path d="M907.7,565.9 L931.5,562.0 L946.6,566.7 L922.7,570.5Z" fill="#8490da"/>
<path d="M886.2,547.8 L909.7,543.6 L924.9,548.4 L901.3,552.5Z" fill="#8c98e0"/>
<path d="M901.3,552.5 L924.9,548.4 L940.1,553.2 L916.4,557.2Z" fill="#ffffff"/>
<path d="M916.4,557.2 L940.1,553.2 L955.3,558.1 L931.5,562.0Z" fill="#7985d4"/>
<path d="M916.4,557.2 L940.1,553.2 L947.7,555.7 L924.0,559.6Z" fill="#ffffff"/>
<path d="M931.5,562.0 L955.3,558.1 L970.5,562.9 L946.6,566.7Z" fill="#ffffff"/>
<path d="M909.7,543.6 L933.3,539.4 L948.6,544.3 L924.9,548.4Z" fill="#ffffff"/>
<path d="M919.6,546.7 L943.2,542.6 L948.6,544.3 L924.9,548.4Z" fill="#8490da"/>
<path d="M924.9,548.4 L948.6,544.3 L963.9,549.2 L940.1,553.2Z" fill="#8c98e0"/>
<path d="M940.1,553.2 L963.9,549.2 L979.2,554.2 L955.3,558.1Z" fill="#ffffff"/>
<path d="M950.0,556.4 L973.8,552.4 L979.2,554.2 L955.3,558.1Z" fill="#8c98e0"/>
<path d="M955.3,558.1 L979.2,554.2 L994.5,559.1 L970.5,562.9Z" fill="#6f7cce"/>
<path d="M933.3,539.4 L956.8,535.2 L972.2,540.2 L948.6,544.3Z" fill="#8c98e0"/>
<path d="M948.6,544.3 L972.2,540.2 L987.6,545.2 L963.9,549.2Z" fill="#ffffff"/>
<path d="M958.5,547.5 L982.2,543.5 L987.6,545.2 L963.9,549.2Z" fill="#8490da"/>
<path d="M963.9,549.2 L987.6,545.2 L1003.0,550.3 L979.2,554.2Z" fill="#8490da"/>
<path d="M963.9,549.2 L987.6,545.2 L995.3,547.8 L971.5,551.7Z" fill="#ffffff"/>
<path d="M979.2,554.2 L1003.0,550.3 L1018.4,555.3 L994.5,559.1Z" fill="#ffffff"/>
<path d="M989.1,557.4 L1013.0,553.5 L1018.4,555.3 L994.5,559.1Z" fill="#8c98e0"/>
<path d="M956.8,535.2 L980.4,531.0 L995.8,536.1 L972.2,540.2Z" fill="#ffffff"/>
<path d="M972.2,540.2 L995.8,536.1 L1011.3,541.2 L987.6,545.2Z" fill="#8490da"/>
<path d="M972.2,540.2 L995.8,536.1 L1003.6,538.7 L979.9,542.7Z" fill="#ffffff"/>
<path d="M987.6,545.2 L1011.3,541.2 L1026.8,546.4 L1003.0,550.3Z" fill="#ffffff"/>
<path d="M997.6,548.5 L1021.4,544.6 L1026.8,546.4 L1003.0,550.3Z" fill="#8c98e0"/>
<path d="M1003.0,550.3 L1026.8,546.4 L1042.3,551.5 L1018.4,555.3Z" fill="#7a87d6"/>
<path d="M980.4,531.0 L1003.9,526.9 L1019.5,532.1 L995.8,536.1Z" fill="#7a87d6"/>
<path d="M995.8,536.1 L1019.5,532.1 L1035.0,537.2 L1011.3,541.2Z" fill="#ffffff"/>
<path d="M1005.9,539.5 L1029.6,535.4 L1035.0,537.2 L1011.3,541.2Z" fill="#7a87d6"/>
<path d="M1011.3,541.2 L1035.0,537.2 L1050.6,542.4 L1026.8,546.4Z" fill="#7a87d6"/>
<path d="M1026.8,546.4 L1050.6,542.4 L1066.2,547.6 L1042.3,551.5Z" fill="#ffffff"/>
<path d="M1003.9,526.9 L1027.5,522.7 L1043.1,528.0 L1019.5,532.1Z" fill="#ffffff"/>
<path d="M1019.5,532.1 L1043.1,528.0 L1058.8,533.2 L1035.0,537.2Z" fill="#7a87d6"/>
<path d="M1035.0,537.2 L1058.8,533.2 L1074.4,538.5 L1050.6,542.4Z" fill="#ffffff"/>
<path d="M1050.6,542.4 L1074.4,538.5 L1090.1,543.8 L1066.2,547.6Z" fill="#7985d4"/>
<path d="M1027.5,522.7 L1051.0,518.5 L1066.8,523.9 L1043.1,528.0Z" fill="#8c98e0"/>
<path d="M1027.5,522.7 L1051.0,518.5 L1058.9,521.2 L1035.3,525.3Z" fill="#ffffff"/>
<path d="M1043.1,528.0 L1066.8,523.9 L1082.5,529.2 L1058.8,533.2Z" fill="#ffffff"/>
<path d="M1053.3,531.4 L1077.0,527.4 L1082.5,529.2 L1058.8,533.2Z" fill="#8490da"/>
<path d="M1058.8,533.2 L1082.5,529.2 L1098.2,534.6 L1074.4,538.5Z" fill="#8c98e0"/>
<path d="M1058.8,533.2 L1082.5,529.2 L1090.4,531.9 L1066.6,535.9Z" fill="#ffffff"/>
<path d="M1074.4,538.5 L1098.2,534.6 L1114.0,540.0 L1090.1,543.8Z" fill="#ffffff"/>
<path d="M792.0,564.5 L851.0,582.0 M815.5,560.3 L874.9,578.2 M839.1,556.1 L898.8,574.4 M862.6,552.0 L922.7,570.5 M886.2,547.8 L946.6,566.7 M909.7,543.6 L970.5,562.9 M933.3,539.4 L994.5,559.1 M956.8,535.2 L1018.4,555.3 M980.4,531.0 L1042.3,551.5 M1003.9,526.9 L1066.2,547.6 M1027.5,522.7 L1090.1,543.8 M1051.0,518.5 L1114.0,540.0 M792.0,564.5 L1051.0,518.5 M806.8,568.9 L1066.8,523.9 M821.5,573.2 L1082.5,529.2 M836.2,577.6 L1098.2,534.6 M851.0,582.0 L1114.0,540.0" fill="none" stroke="#101228" stroke-width="1.3"/>
</g>
<!-- ===== YELLOW BOXES, WIRES, BATTERIES ===== -->
<g stroke-linejoin="round" stroke-linecap="round" fill="none">
<!-- wire outlines -->
<g stroke="#7a5c0c" stroke-width="4.2">
<path d="M691,546 C670,552 655,562 658,575 C662,590 672,598 684,604"/>
<path d="M727,603 C745,612 770,612 790,606 C805,602 815,598 822,596"/>
<path d="M720,619 C730,626 745,628 760,627 L792,625"/>
<path d="M815,628 C828,630 838,640 843,648"/>
<path d="M855,667 L855,815 C855,825 850,830 840,831 L812,833 C805,834 801,838 801,846 L801,925 C801,932 806,934 812,932"/>
<path d="M851,905 C852,885 860,870 870,868 C880,868 884,880 885,897"/>
<path d="M916,872 C918,862 922,856 927,853"/>
<path d="M938,853 C943,858 946,864 948,870"/>
</g>
<g stroke="#f0bd1f" stroke-width="2.6">
<path d="M691,546 C670,552 655,562 658,575 C662,590 672,598 684,604"/>
<path d="M727,603 C745,612 770,612 790,606 C805,602 815,598 822,596"/>
<path d="M720,619 C730,626 745,628 760,627 L792,625"/>
<path d="M815,628 C828,630 838,640 843,648"/>
<path d="M855,667 L855,815 C855,825 850,830 840,831 L812,833 C805,834 801,838 801,846 L801,925 C801,932 806,934 812,932"/>
<path d="M851,905 C852,885 860,870 870,868 C880,868 884,880 885,897"/>
<path d="M916,872 C918,862 922,856 927,853"/>
<path d="M938,853 C943,858 946,864 948,870"/>
</g>
</g>
<g stroke-linejoin="round" stroke="#111" stroke-width="1.6">
<!-- box 1 -->
<path d="M672.5,602.5 L700,594 L730,606 L702.5,615Z" fill="#f8ee9e"/>
<path d="M672.5,602.5 L702.5,615 L702.5,630 L674,616Z" fill="#f1e04b"/>
<path d="M702.5,615 L730,606 L730,620 L702.5,630Z" fill="#f5e878"/>
<!-- box 2 -->
<path d="M829,649 L855,644 L870,650.5 L844,656Z" fill="#f8ee9e"/>
<path d="M829,649 L844,656 L844,668 L830,660Z" fill="#f1e04b"/>
<path d="M844,656 L870,650.5 L870,662.5 L844,668Z" fill="#f5e878"/>
<!-- battery 2 (rear) -->
<path d="M870,877.5 L910,865 L957.5,887.5 L902.5,905Z" fill="#f8ee9e"/>
<path d="M870,877.5 L902.5,905 L903,928 L885,933 L871,915Z" fill="#f1e04b"/>
<path d="M902.5,905 L957.5,887.5 L957.5,898 L930,922 L903,928Z" fill="#f5e878"/>
<!-- battery 1 (front) -->
<path d="M791,894 L840,881 L885,911 L836,922Z" fill="#f8ee9e"/>
<path d="M791,894 L836,922 L837.500,969 L793,945.500Z" fill="#f1e04b"/>
<path d="M836,922 L885,911 L886,932 L862,950 L850,966 L837.500,969Z" fill="#f5e878"/>
<path d="M820,896 L830,893" stroke-width="1.4"/>
</g>
<!-- wires over the batteries -->
<g fill="none" stroke-linecap="round">
<path d="M801,880 L801,925 C801,932 806,934 812,932" stroke="#7a5c0c" stroke-width="4.2"/>
<path d="M801,880 L801,925 C801,932 806,934 812,932" stroke="#f0bd1f" stroke-width="2.6"/>
<path d="M851,905 C852,885 860,870 870,868 C880,868 884,880 885,897" stroke="#7a5c0c" stroke-width="4.2"/>
<path d="M851,905 C852,885 860,870 870,868 C880,868 884,880 885,897" stroke="#f0bd1f" stroke-width="2.6"/>
</g>
<!-- mini fuse on roof -->
<g>
<rect x="786" y="621" width="8" height="8" rx="2" fill="#f4dede" stroke="#c33" stroke-width="0.8"/>
<rect x="812" y="621" width="8" height="8" rx="2" fill="#f4dede" stroke="#c33" stroke-width="0.8"/>
<rect x="793" y="617" width="20" height="17" rx="3" fill="#1a1a1c"/>
<rect x="801" y="623" width="9" height="4" rx="1" fill="#e0222a"/>
</g>
<!-- mini battery switch -->
<g>
<path d="M921,850 L939,850 L941,862 L919,862Z" fill="#2a2a2d"/>
<ellipse cx="930" cy="851" rx="6.5" ry="4.5" fill="#e0262b"/>
<path d="M927,843 L933,843 L934,852 L926,852Z" fill="#e0262b"/>
<rect x="928.5" y="844" width="3" height="5" fill="#f5f5f5"/>
</g>
<!-- ===== LEADER LINES ===== -->
<g fill="none" stroke-linecap="round" stroke-linejoin="round">
<!-- white halos -->
<g stroke="#fff" stroke-width="6">
<path d="M363,626 L736,626"/>
<path d="M191,667 L829,656.5"/>
<path d="M1197,921 L1000,866"/>
<path d="M1080,987.5 L945,866"/>
<path d="M1083,984 L950,870"/>
<path d="M918,1164 L860,922"/><path d="M918,1164 L936,896"/>
</g>
<g stroke="#111" stroke-width="3">
<!-- roof combiner -->
<path d="M414.5,497 L503.5,497 L675,603.5"/>
<!-- mc4 -->
<path d="M620.5,330 L620.5,530 L655.5,566" stroke-width="2.100"/>
<!-- brackets -->
<path d="M658.5,472 L658.5,534" stroke-width="2.100"/>
<!-- pv cable -->
<path d="M363,626 L736,626" stroke-width="2.400"/>
<!-- mppt -->
<path d="M191,667 L829,656.5" stroke-width="2.400"/>
<!-- solar panel -->
<path d="M1182,402.5 L1141,403.5 L957.5,469"/><path d="M1141,403.5 L1085,510"/>
<!-- fuse -->
<path d="M818,625 L1230,625"/>
<!-- inverter -->
<path d="M1210,921 L1197,921 L1000,866" stroke-width="2.200"/>
<!-- battery switch -->
<path d="M1148,987.5 L1080,987.5 L945,866"/><path d="M1083,984 L950,870"/>
<!-- batteries -->
<path d="M962,1164 L918,1164 L860,922"/><path d="M918,1164 L936,896"/>
</g>
<!-- red/black cable leader -->
<path d="M797,878.5 L644,878.5 L644,1190" stroke="#fff" stroke-width="6.500" stroke-linecap="butt"/>
<path d="M797,878.5 L644,878.5 L644,1190" stroke="#2a2a2c" stroke-width="2.300" stroke-linecap="butt"/>
</g>
<!-- ===== PRODUCT: SOLAR PANELS ===== -->
<g>
<clipPath id="bpclip"><rect x="1185" y="180" width="45.5" height="290"/></clipPath>
<g clip-path="url(#bpclip)"><path d="M1191.5,185.7 L1304.0,195.0 L1304.0,451.0 L1191.5,460.0Z" fill="#b9bbbf" stroke="#9c9ea3" stroke-width="0.8"/>
<path d="M1197.0,192.2 L1302.0,200.8 L1302.0,446.2 L1197.0,454.6Z" fill="#0c0c0e"/>
<path d="M1204.0,192.7 L1204.0,454.0 M1211.0,193.3 L1211.0,453.4 M1218.0,193.9 L1218.0,452.9 M1225.0,194.5 L1225.0,452.3 M1239.0,195.6 L1239.0,451.2 M1246.0,196.2 L1246.0,450.6 M1253.0,196.8 L1253.0,450.1 M1260.0,197.4 L1260.0,449.5 M1274.0,198.5 L1274.0,448.4 M1281.0,199.1 L1281.0,447.8 M1288.0,199.7 L1288.0,447.3 M1295.0,200.3 L1295.0,446.7" stroke="#8c8e93" stroke-width="0.7" fill="none"/>
<path d="M1197.0,214.0 L1302.0,221.3 M1197.0,235.9 L1302.0,241.7 M1197.0,257.8 L1302.0,262.2 M1197.0,279.6 L1302.0,282.6 M1197.0,301.5 L1302.0,303.1 M1197.0,323.4 L1302.0,323.5 M1197.0,345.2 L1302.0,343.9 M1197.0,367.1 L1302.0,364.4 M1197.0,389.0 L1302.0,384.8 M1197.0,410.8 L1302.0,405.3 M1197.0,432.7 L1302.0,425.7 M1232.0,195.0 L1232.0,451.8 M1267.0,197.9 L1267.0,449.0" stroke="#c9cbd0" stroke-width="1" fill="none"/>
<circle cx="1232.0" cy="237.8" r="1.6" fill="#fff"/><circle cx="1232.0" cy="280.6" r="1.6" fill="#fff"/><circle cx="1232.0" cy="323.4" r="1.6" fill="#fff"/><circle cx="1232.0" cy="366.2" r="1.6" fill="#fff"/><circle cx="1232.0" cy="409.0" r="1.6" fill="#fff"/><circle cx="1267.0" cy="239.8" r="1.6" fill="#fff"/><circle cx="1267.0" cy="281.6" r="1.6" fill="#fff"/><circle cx="1267.0" cy="323.5" r="1.6" fill="#fff"/><circle cx="1267.0" cy="365.3" r="1.6" fill="#fff"/><circle cx="1267.0" cy="407.1" r="1.6" fill="#fff"/></g>
<path d="M1230.0,185.2 L1342.5,194.6 L1342.5,451.8 L1230.0,460.7Z" fill="#b9bbbf" stroke="#9c9ea3" stroke-width="0.8"/>
<path d="M1235.5,191.7 L1340.5,200.4 L1340.5,447.0 L1235.5,455.3Z" fill="#0c0c0e"/>
<path d="M1242.5,192.2 L1242.5,454.7 M1249.5,192.8 L1249.5,454.2 M1256.5,193.4 L1256.5,453.6 M1263.5,194.0 L1263.5,453.0 M1277.5,195.2 L1277.5,451.9 M1284.5,195.8 L1284.5,451.4 M1291.5,196.3 L1291.5,450.8 M1298.5,196.9 L1298.5,450.3 M1312.5,198.1 L1312.5,449.2 M1319.5,198.7 L1319.5,448.6 M1326.5,199.3 L1326.5,448.1 M1333.5,199.8 L1333.5,447.5" stroke="#8c8e93" stroke-width="0.7" fill="none"/>
<path d="M1235.5,213.6 L1340.5,221.0 M1235.5,235.6 L1340.5,241.5 M1235.5,257.6 L1340.5,262.1 M1235.5,279.5 L1340.5,282.6 M1235.5,301.5 L1340.5,303.2 M1235.5,323.5 L1340.5,323.7 M1235.5,345.4 L1340.5,344.2 M1235.5,367.4 L1340.5,364.8 M1235.5,389.4 L1340.5,385.3 M1235.5,411.3 L1340.5,405.9 M1235.5,433.3 L1340.5,426.4 M1270.5,194.6 L1270.5,452.5 M1305.5,197.5 L1305.5,449.7" stroke="#c9cbd0" stroke-width="1" fill="none"/>
<circle cx="1270.5" cy="237.6" r="1.6" fill="#fff"/><circle cx="1270.5" cy="280.6" r="1.6" fill="#fff"/><circle cx="1270.5" cy="323.5" r="1.6" fill="#fff"/><circle cx="1270.5" cy="366.5" r="1.6" fill="#fff"/><circle cx="1270.5" cy="409.5" r="1.6" fill="#fff"/><circle cx="1305.5" cy="239.5" r="1.6" fill="#fff"/><circle cx="1305.5" cy="281.6" r="1.6" fill="#fff"/><circle cx="1305.5" cy="323.6" r="1.6" fill="#fff"/><circle cx="1305.5" cy="365.7" r="1.6" fill="#fff"/><circle cx="1305.5" cy="407.7" r="1.6" fill="#fff"/>
</g>
<!-- ===== PRODUCT: MC4 Y CONNECTORS ===== -->
<g stroke-linecap="round" stroke-linejoin="round" fill="none">
<!-- top Y: two on left, one on right -->
<g stroke="#1c1c1e" stroke-width="2.6">
<path d="M576,272.5 L600,275 C612,276 618,277 625,278.5"/>
<path d="M576,284 L600,282 C612,281 618,280 625,279"/>
<path d="M640,279 L686,281.5"/>
</g>
<path d="M618,274.500 C626,272 634,274 643,278.500 L643,281 C634,284 626,286 618,283 C614,281 614,277 618,274.500Z" fill="#1c1c1e" stroke="none"/>
<!-- bottom Y: one on left, two on right -->
<g stroke="#1c1c1e" stroke-width="2.6">
<path d="M576,311 L622,309"/>
<path d="M644,306 C655,304 665,303 686,301"/>
<path d="M644,311 C655,312 665,313 686,314.5"/>
</g>
<path d="M619,308 C628,303.500 638,303 647,304.500 L647,312.500 C638,315 628,315 619,310.500 C617,309.500 617,309 619,308Z" fill="#1c1c1e" stroke="none"/>
</g>
<g>
<!-- left female connectors (top pair) -->
<g id="mcF">
<rect x="542" y="268.5" width="7" height="7" rx="1" fill="#1c1c1e"/>
<rect x="548" y="269.5" width="14" height="5.4" fill="#262628"/>
<path d="M561,268.5 L573,267.5 L576,270 L576,275 L573,277.5 L561,276.5Z" fill="#1c1c1e"/>
</g>
<use href="#mcF" y="11.5"/>
<!-- bottom left male-ish connector -->
<g>
<rect x="542" y="306" width="6" height="10.5" rx="1" fill="#1c1c1e"/>
<rect x="547" y="308.5" width="4" height="5.5" fill="#1c1c1e"/>
<rect x="550" y="306.5" width="14" height="9.5" rx="1.5" fill="#1c1c1e"/>
<path d="M563,307 L574,306.5 L577,309 L577,313.5 L574,316 L563,315.5Z" fill="#222224"/>
</g>
<!-- right connectors -->
<g id="mcM">
<path d="M685,278 L697,277 L699,278 L699,285.5 L697,286.5 L685,285.5Z" fill="#1c1c1e"/>
<rect x="698" y="277" width="8" height="9.5" rx="1" fill="#222224"/>
<rect x="705.5" y="279.3" width="3" height="5" fill="#9a2222"/>
<rect x="708" y="279.5" width="11" height="4.6" fill="#1c1c1e"/>
<path d="M706,277.5 L712,276.5 M706,286 L712,287" stroke="#444" stroke-width="0.9"/>
</g>
<use href="#mcM" x="1" y="19.5"/>
<use href="#mcM" x="1" y="33"/>
</g>
<!-- ===== PRODUCT: BRACKETS & SCREWS ===== -->
<g>
<g id="zbr">
<path d="M646,401 L672,401 L680,393 L654,393Z" fill="#a9aaad"/>
<path d="M654,393 L680,393 L679,383 L658,384 L648,388 L655,390Z" fill="#c3c4c7"/>
<path d="M648,388 L658,384 L679,383 L676,381.5 L656,382.5 L647,386.5Z" fill="#9a9b9e"/>
<rect x="664" y="385.5" width="9" height="1.6" fill="#efeff1" transform="rotate(-3 668 386)"/>
</g>
<use href="#zbr" x="34" y="0"/>
<use href="#zbr" x="0" y="26"/>
<use href="#zbr" x="34" y="26"/>
<!-- screws -->
<g stroke="#4a4a4d" stroke-width="1.4" stroke-linecap="round">
<path d="M645,449 L652,462"/><path d="M650,446 L656,460"/><path d="M656,443 L660,458"/><path d="M661,441 L664,456"/><path d="M667,439 L668,455"/><path d="M673,438 L672,454"/><path d="M679,438 L676,453"/><path d="M686,439 L681,453"/>
<path d="M660,462 L662,468" stroke-width="1"/><path d="M664,461 L665,467" stroke-width="1"/><path d="M668,460 L668,466" stroke-width="1"/><path d="M672,460 L671,466" stroke-width="1"/>
</g>
<g fill="#5a5a5e"><circle cx="645" cy="449" r="1.8"/><circle cx="650" cy="446" r="1.8"/><circle cx="656" cy="443" r="1.8"/><circle cx="661" cy="441" r="1.8"/><circle cx="667" cy="439" r="1.8"/><circle cx="673" cy="438" r="1.8"/><circle cx="679" cy="438" r="1.8"/><circle cx="686" cy="439" r="1.8"/></g>
<!-- washers -->
<g fill="none" stroke="#b5b6ba" stroke-width="1">
<circle cx="697" cy="444" r="1.5"/><circle cx="703" cy="444" r="1.5"/><circle cx="708" cy="444" r="1.5"/><circle cx="713" cy="444" r="1.5"/>
<circle cx="697" cy="450" r="1.5"/><circle cx="703" cy="450" r="1.5"/><circle cx="708" cy="450" r="1.5"/><circle cx="713" cy="450" r="1.5"/>
</g>
<g fill="none" stroke="#b5b6ba" stroke-width="1.6">
<circle cx="690.5" cy="457.5" r="2.2"/><circle cx="697" cy="457.5" r="2.2"/><circle cx="703.5" cy="457.5" r="2.2"/><circle cx="710" cy="457.5" r="2.2"/>
</g>
</g>
<!-- ===== PRODUCT: ROOF COMBINER BOX ===== -->
<defs>
<linearGradient id="gComb" x1="0" y1="0" x2="1" y2="1"><stop offset="0" stop-color="#fdfdfe"/><stop offset="0.45" stop-color="#f4f4f7"/><stop offset="1" stop-color="#dddee3"/></linearGradient>
<linearGradient id="gGland" x1="0" y1="0" x2="0" y2="1"><stop offset="0" stop-color="#f3f1ea"/><stop offset="1" stop-color="#cbc7ba"/></linearGradient>
</defs>
<g>
<!-- base flange -->
<path d="M262,423 L275,422 L330,407 C345,403 352,407 355,417 C357,430 350,437 338,439 L282,444 C270,445 262,440 261,432Z" fill="#ebecf0" stroke="#d6d7dc" stroke-width="0.800"/>
<path d="M262,428 C270,440 282,440 290,438 L340,432 C350,430 354,424 355,418 C357,430 350,437 338,439 L282,444 C270,445 262,440 262,428Z" fill="#d3d4da"/>
<!-- dome -->
<path d="M271,372 C273,367 278,366 284,368 L318,380 C335,387 346,400 347,414 C347,424 340,430 330,431 L285,434 C275,434 270,430 270,422Z" fill="url(#gComb)" stroke="#d8d9de" stroke-width="0.800"/>
<path d="M276,376 L312,388 C328,394 338,404 340,416 C338,408 326,400 310,397 L276,392Z" fill="#ffffff" opacity=".75"/>
<path d="M284,412 C296,400 318,398 336,408 C326,403 300,404 286,416Z" fill="#dfe0e5"/>
<path d="M275,424 C290,430 320,428 340,420 C338,426 334,429 330,430 L285,433 C278,433 275,430 275,424Z" fill="#e3e4e9"/>
<!-- black gasket -->
<path d="M270,376 C268,390 268,410 271,424" stroke="#222" stroke-width="1.600" fill="none"/>
<!-- glands -->
<rect x="258" y="377" width="12" height="20" rx="3" fill="#dedbd0"/>
<rect x="243" y="376" width="18" height="19" rx="6" fill="url(#gGland)" stroke="#c4c0b4" stroke-width="0.600"/>
<rect x="254" y="398" width="16" height="24" rx="3" fill="#d9d6ca"/>
<rect x="238.500" y="396" width="20" height="24" rx="7" fill="url(#gGland)" stroke="#c4c0b4" stroke-width="0.600"/>
<path d="M247,379 L247,393 M252,378 L252,394 M257,379 L257,393" stroke="#c5c1b4" stroke-width="0.900"/>
<path d="M244,399 L244,417 M250,398 L250,419 M255,399 L255,418" stroke="#c5c1b4" stroke-width="0.900"/>
</g>
<!-- ===== PRODUCT: MPPT CONTROLLER ===== -->
<defs>
<linearGradient id="gMppt" x1="0" y1="0" x2="1" y2="0"><stop offset="0" stop-color="#1c1d20"/><stop offset="0.5" stop-color="#141517"/><stop offset="1" stop-color="#222327"/></linearGradient>
</defs>
<g>
<!-- back plate / flanges -->
<rect x="64.500" y="544.5" width="94.5" height="129" rx="2" fill="#17181a"/>
<rect x="153" y="546" width="6" height="126" fill="#222326"/>
<g fill="#d8d8da"><rect x="65.5" y="555.500" width="2.2" height="3.5"/><rect x="65.5" y="659" width="2.2" height="3.5"/><rect x="155.5" y="555.500" width="2.2" height="3.5"/><rect x="155.500" y="659" width="2.2" height="3.5"/></g>
<!-- body -->
<rect x="66" y="543.500" width="86.5" height="130" rx="7" fill="url(#gMppt)"/>
<path d="M70,548 L148,548 L148,575 C130,570 90,570 70,575Z" fill="#222428" opacity=".6"/>
<path d="M70,668 L148,668 L148,655 C130,660 90,660 70,655Z" fill="#0c0d0e" opacity=".7"/>
<!-- logo -->
<rect x="100" y="559.500" width="26" height="3" rx="1" fill="#1d5f9c"/>
<!-- display bezel -->
<rect x="84.500" y="572" width="55" height="46" rx="7" fill="#0b0c0d"/>
<!-- blue lcd -->
<rect x="89" y="577.500" width="47" height="35.5" rx="2" fill="#1f7fd9"/>
<rect x="96.500" y="586" width="28.5" height="15" rx="1" fill="#cfe0f6"/>
<g fill="#3d86d6"><rect x="98" y="588" width="5" height="2"/><rect x="98" y="592.500" width="6" height="2"/><rect x="98" y="597" width="5" height="2"/><rect x="110" y="588" width="6" height="2.5"/><rect x="110" y="592.500" width="6" height="2.500"/><rect x="110" y="597" width="6" height="2.500"/><rect x="119" y="588.500" width="3" height="2"/></g>
<g fill="none" stroke="#e8f1fc" stroke-width="1"><circle cx="96.500" cy="606.500" r="2.3"/><circle cx="104" cy="606.500" r="2.3"/><circle cx="111.500" cy="606.500" r="2.3"/><circle cx="119" cy="606.500" r="2.3"/><circle cx="126.500" cy="606.500" r="2.3"/></g>
<g fill="#bcd6f3"><rect x="91.500" y="589" width="1.5" height="1.500"/><rect x="91.500" y="595.500" width="1.500" height="1.500"/><rect x="91.500" y="602" width="1.500" height="1.500"/></g>
<!-- label -->
<rect x="92" y="639" width="42" height="2.2" fill="#d9dade"/>
<rect x="85.500" y="645.500" width="54" height="4.6" fill="#e4e5e8"/>
<rect x="85.500" y="645.500" width="14" height="4.6" fill="#1f6fc4"/>
<rect x="101" y="646.800" width="37" height="2" fill="#2a2b2e"/>
</g>
<!-- ===== PRODUCT: PV CABLES ===== -->
<g fill="none" stroke-linecap="round">
<ellipse cx="253" cy="590.500" rx="24" ry="14.5" stroke="#0f0f10" stroke-width="8.500" transform="rotate(-8 253 590)"/>
<ellipse cx="253" cy="590.500" rx="24" ry="14.500" stroke="#2a2a2c" stroke-width="1" transform="rotate(-8 253 590)"/>
<path d="M279,580 C284,590 286,602 285.500,614" stroke="#0f0f10" stroke-width="1.800"/>
<path d="M285,613 L284,629" stroke="#0f0f10" stroke-width="4"/>
<path d="M245,611 C255,617 265,621 274,623.500" stroke="#0f0f10" stroke-width="1.600"/>
<ellipse cx="319.500" cy="575.500" rx="26.500" ry="16.500" stroke="#0f0f10" stroke-width="8.500" transform="rotate(-8 319 575)"/>
<ellipse cx="319.500" cy="575.500" rx="26.500" ry="16.500" stroke="#2a2a2c" stroke-width="1" transform="rotate(-8 319 575)"/>
<path d="M346,568 C352,578 354,588 353,598" stroke="#0f0f10" stroke-width="1.800"/>
<path d="M349,601 L340,618" stroke="#0f0f10" stroke-width="4.600"/>
<path d="M305,592 C315,600 325,607 336,611" stroke="#0f0f10" stroke-width="1.600"/>
</g>
<!-- ===== PRODUCT: FUSE ===== -->
<defs>
<linearGradient id="gTube" x1="0" y1="0" x2="0" y2="1"><stop offset="0" stop-color="#f7f7f8"/><stop offset="0.5" stop-color="#dcdcdf"/><stop offset="1" stop-color="#f2f2f3"/></linearGradient>
</defs>
<g>
<rect x="1241" y="614.500" width="34" height="22" rx="4" fill="url(#gTube)" stroke="#e3e3e6" stroke-width="0.6"/>
<rect x="1319" y="614.500" width="32" height="22" rx="4" fill="url(#gTube)" stroke="#e3e3e6" stroke-width="0.6"/>
<rect x="1241" y="619.500" width="6" height="12" rx="2" fill="#e8474b"/>
<rect x="1345" y="619.500" width="6" height="12" rx="2" fill="#e8474b"/>
<circle cx="1257" cy="626" r="2.2" fill="#c9a24a"/><circle cx="1338" cy="626" r="2.200" fill="#c9a24a"/>
<rect x="1262" y="616" width="11" height="19" fill="#c4c4c9" opacity=".8"/><path d="M1250,616 L1250,635 M1254,616 L1254,635 M1265,616 L1265,635 M1269,616 L1269,635" stroke="#b9b9be" stroke-width="0.800"/>
<rect x="1321" y="616" width="11" height="19" fill="#c4c4c9" opacity=".8"/><path d="M1325,616 L1325,635 M1329,616 L1329,635 M1341,616 L1341,635 M1345,616 L1345,635" stroke="#b9b9be" stroke-width="0.800"/>
<path d="M1278,604 L1316,604 C1320,604 1321.500,606 1321.500,610 L1321.500,642 C1321.500,646.500 1320,648.500 1316,648.500 L1278,648.500 C1274.500,648.500 1273,646.500 1273,642 L1273,610 C1273,606 1274.500,604 1278,604Z" fill="#19191b"/>
<circle cx="1294.500" cy="608.500" r="1.700" fill="#fff"/><circle cx="1294.500" cy="644.500" r="1.700" fill="#fff"/>
<circle cx="1279" cy="615" r="2" fill="#b8923e"/><circle cx="1318" cy="615" r="2" fill="#b8923e"/><circle cx="1279" cy="636.500" r="2" fill="#b8923e"/><circle cx="1318" cy="636.500" r="2" fill="#b8923e"/>
<rect x="1277" y="618" width="8" height="14" fill="#0a0a0b"/>
<rect x="1286" y="622" width="8.500" height="6" rx="1.500" fill="#e8222a"/>
<path d="M1300,622 L1303,620 L1316,620 C1320,621 1320.500,628 1316,630 L1311,630 L1309,627 L1300,627Z" fill="#e8222a"/>
</g>
<!-- ===== PRODUCT: INVERTER ===== -->
<g stroke-linejoin="round">
<!-- right side face -->
<path d="M1305.500,887 L1380.500,837 L1381,873 L1303.500,930Z" fill="#d91f22"/>
<!-- top face -->
<path d="M1221.500,864 L1309,809.500 L1380.500,837 L1305.500,887Z" fill="#ee2b2b"/>
<!-- back end cap (dark) -->
<path d="M1368,832 L1380.500,837 L1381,873 L1369,882Z" fill="#3a3b3e"/>
<path d="M1300,812.500 L1309,809.500 L1380.500,837 L1371.500,842Z" fill="#55565a" opacity="0.0"/>
<!-- front face -->
<path d="M1221.500,864 L1305.500,887 L1303.500,930 L1291,929 L1226,899 C1222.500,897 1222,895 1222,892Z" fill="#1d1e20"/>
<!-- front red strip -->
<path d="M1229,867 L1300,887 L1300,903 L1229,882.500Z" fill="#e12427"/>
<circle cx="1241" cy="876" r="3" fill="#7c1416"/><circle cx="1241" cy="876" r="1.500" fill="#2a0a0a"/>
<path d="M1249,873.500 L1271,879.800 L1271,892 L1249,885.500Z" fill="#16261f"/>
<path d="M1251,877 L1269,882.200 M1251,881 L1269,886.200" stroke="#c7a33a" stroke-width="1.300"/>
<rect x="1285" y="888" width="4.500" height="2.600" fill="#111" transform="rotate(16 1287 889)"/>
<!-- outlets recess -->
<path d="M1228,886 L1292,905 L1292,924 L1228,897Z" fill="none" stroke="#3c3d41" stroke-width="0.900"/>
<g fill="#0d0d0e" stroke="#3a3b3f" stroke-width="0.700">
<path d="M1231,888.500 L1243,892 L1243,905 L1231,900Z"/><path d="M1245,893 L1257,896.500 L1257,910.500 L1245,905.500Z"/><path d="M1259,897.500 L1271,901 L1271,916 L1259,911Z"/><path d="M1273,902 L1285,905.500 L1285,921.500 L1273,916.500Z"/>
</g>
<g stroke="#55565a" stroke-width="0.900"><path d="M1235,893 L1235,897 M1239.500,894.500 L1239.500,898.500"/><path d="M1249,897.500 L1249,901.500 M1253.500,899 L1253.500,903"/><path d="M1263,902.500 L1263,906.500 M1267.500,904 L1267.500,908"/><path d="M1277,907.500 L1277,911.500 M1281.500,909 L1281.500,913"/></g>
<path d="M1297,908 L1300,906 L1300,922 L1297,924Z" fill="#0c0c0d"/>
<!-- text on top -->
<text transform="translate(1274.500,864) rotate(-31)" font-size="10.500" font-weight="bold" fill="#fff" textLength="31" lengthAdjust="spacingAndGlyphs">1500W</text>
<path d="M1304,845 L1339,823" stroke="#fbdada" stroke-width="2" stroke-dasharray="6 1.200 4 1.200 5 1.200 8 1.200"/>
</g>
<!-- ===== PRODUCT: BATTERY SWITCH ===== -->
<g>
<path d="M1160,972 C1160,968 1163,966 1167,966 L1199,966 C1204,966 1207,969 1207.500,973 L1208.500,1008 C1208.500,1013 1206,1015.500 1201,1016 L1166,1017.500 C1161,1017.500 1158,1015 1158,1010Z" fill="#3c3d41"/>
<path d="M1158,1004 L1208.500,1002 L1208.500,1008 C1208.500,1013 1206,1015.500 1201,1016 L1166,1017.500 C1161,1017.500 1158,1015 1158,1010Z" fill="#2a2b2e"/>
<ellipse cx="1183.500" cy="989" rx="20" ry="10.500" fill="#2e2f33"/>
<g fill="#151517"><circle cx="1163.500" cy="972" r="2.300"/><circle cx="1203" cy="972" r="2.300"/><circle cx="1162.500" cy="1001" r="2.300"/><circle cx="1204.500" cy="1000" r="2.300"/><rect x="1182" y="1000" width="2.600" height="6" rx="1"/></g>
<ellipse cx="1183.500" cy="989.500" rx="15.500" ry="6.500" fill="#1f9a45"/>
<ellipse cx="1183.500" cy="985.500" rx="15.500" ry="7.500" fill="#d92a25"/>
<path d="M1170,975 C1172,964 1176,958 1183,957 C1191,958 1195,964 1197,975 L1199,985 C1192,991 1175,991 1168,985Z" fill="#ea3a30"/>
<path d="M1176,990 L1183.500,984 L1191,990 L1188,992 L1179,992Z" fill="#b81f1c"/>
<path d="M1177,966 C1177,961 1180,959 1183.500,959 C1187,959 1190,961 1190,966 L1190,976 C1190,978 1188,979.500 1183.500,979.500 C1179,979.500 1177,978 1177,976Z" fill="#f1f1f3"/>
<rect x="1179.500" y="962" width="8" height="6" fill="#d3d4d8"/>
<path d="M1181.500,975 L1185.500,975 L1183.500,977.500Z" fill="#333"/>
</g>
<!-- ===== PRODUCT: AGM BATTERY ===== -->
<defs>
<linearGradient id="gBatF" x1="0" y1="0" x2="1" y2="0.300"><stop offset="0" stop-color="#d9dbe0"/><stop offset="1" stop-color="#cfd1d6"/></linearGradient>
</defs>
<g stroke-linejoin="round">
<!-- right side -->
<path d="M1132.500,1149 L1165.500,1120 L1162.500,1223 L1132.500,1258Z" fill="#a4a5a9"/>
<!-- front -->
<path d="M969.500,1113.500 L1132.500,1149 L1132.500,1258 L973,1214.500Z" fill="url(#gBatF)"/>
<!-- lid top -->
<path d="M972,1102 L1015.500,1079.500 L1162.500,1112.500 L1133.500,1140.500Z" fill="#bcbdc1"/>
<!-- lid front edge -->
<path d="M972,1102 L1133.500,1140.500 L1132.500,1149 L969.500,1113.500Z" fill="#cbccd1"/>
<path d="M1133.500,1140.500 L1162.500,1112.500 L1165.500,1120 L1132.500,1149Z" fill="#9b9ca0"/>
<!-- recess on lid -->
<path d="M1003,1094 L1030,1082 L1150,1109 L1128,1127Z" fill="#b1b2b6"/>
<!-- strap -->
<path d="M1003,1088 C1015,1084 1025,1090 1035,1100 C1045,1110 1060,1112 1075,1108 C1095,1100 1110,1100 1122,1108 L1143,1125 L1136,1133 L1115,1118 C1105,1112 1095,1113 1080,1118 C1060,1124 1040,1122 1028,1110 C1020,1100 1012,1094 1000,1096Z" fill="#f4f4f6"/>
<path d="M996,1090 L1003,1086 L1008,1096 L999,1099Z" fill="#ededf0"/>
<path d="M1133,1128 L1146,1120 L1150,1127 L1138,1137Z" fill="#8a8b8f"/>
<path d="M1136,1131 L1147,1124 L1150,1140 L1140,1146Z" fill="#77787c"/>
<!-- terminals -->
<ellipse cx="993.500" cy="1099.500" rx="7" ry="3.800" fill="#d8453c"/><ellipse cx="993.500" cy="1099.300" rx="3" ry="1.800" fill="#eee"/>
<ellipse cx="1122" cy="1130.500" rx="8" ry="4.500" fill="#4c4d50"/><ellipse cx="1122" cy="1130" rx="4.500" ry="2.600" fill="#cdbf86"/>
<!-- logo -->
<circle cx="1004" cy="1149" r="7.500" fill="#2a76c9"/>
<path d="M1004,1143.500 L1008.500,1153 L999.500,1153Z" fill="#fff"/><path d="M1004,1147.500 L1006,1152 L1002,1152Z" fill="#2a76c9"/>
<rect x="995.500" y="1160.500" width="19" height="2.400" fill="#6ea3dd" transform="rotate(12 1005 1161)"/>
<!-- marks -->
<g fill="none" stroke="#3d84d2" stroke-width="1">
<path d="M996,1172 L1002,1173.500 M996,1175 L1002,1176.500"/><path d="M1013,1172.500 C1009,1172 1009,1180 1013,1180.500 M1018,1174 C1015,1173.500 1015,1181 1018,1181.500 M1015.500,1177.500 L1018,1178"/>
<circle cx="999" cy="1188" r="3.200"/><path d="M1012,1186 L1018,1187.500 L1012,1190 L1018,1192 M1013,1195 L1018,1196.500"/>
</g>
<!-- text block -->
<g transform="translate(1035,1153) skewY(12.300)">
<rect x="0" y="0" width="62" height="2" fill="#5a97dc"/>
<rect x="0" y="5" width="72" height="3.400" fill="#2f7ad0"/>
<g fill="#7aaae2"><rect x="0" y="11.500" width="50" height="1.500"/><rect x="2" y="15" width="46" height="1.500"/><rect x="2" y="18.500" width="50" height="1.500"/><rect x="2" y="22" width="42" height="1.500"/><rect x="2" y="25.500" width="50" height="1.500"/><rect x="0" y="30" width="28" height="1.500"/><rect x="0" y="34" width="44" height="1.500"/><rect x="0" y="38" width="58" height="1.500"/><rect x="0" y="41.500" width="50" height="1.500"/><rect x="20" y="45" width="52" height="1.500"/></g>
<rect x="0" y="44.500" width="30" height="2.400" fill="#2f7ad0"/>
<path d="M0,10 L0,28 M54,14 L54,28" stroke="#7aaae2" stroke-width="0.800"/>
</g>
</g>
<!-- ===== PRODUCT: RED/BLACK CABLES ===== -->
<g fill="none" stroke-linecap="round">
<!-- black -->
<ellipse cx="585.500" cy="1268" rx="42.500" ry="39.500" stroke="#18181a" stroke-width="16"/>
<g stroke="#3a3a3d" stroke-width="0.900">
<ellipse cx="585.500" cy="1268" rx="46.500" ry="43.500"/><ellipse cx="585.500" cy="1268" rx="42" ry="39"/><ellipse cx="585.500" cy="1268" rx="38" ry="35"/>
</g>
<path d="M560,1235 C575,1226 595,1226 612,1237" stroke="#2c2c2f" stroke-width="3.500"/>
<path d="M634,1252 L636.500,1212" stroke="#18181a" stroke-width="2.600"/>
<ellipse cx="637.500" cy="1207.500" rx="3" ry="4.200" stroke="#6a6c58" stroke-width="1.800" transform="rotate(15 637.500 1207.500)"/>
<!-- red -->
<ellipse cx="683" cy="1275" rx="39" ry="40.500" stroke="#e8482b" stroke-width="17"/>
<g stroke="#c93a22" stroke-width="0.900">
<ellipse cx="683" cy="1275" rx="43.500" ry="45"/><ellipse cx="683" cy="1275" rx="39" ry="40.500"/><ellipse cx="683" cy="1275" rx="34.500" ry="36"/>
</g>
<g stroke="#f2664a" stroke-width="1.200"><ellipse cx="683" cy="1275" rx="41.200" ry="42.700"/><ellipse cx="683" cy="1275" rx="36.700" ry="38.200"/></g>
<path d="M660,1243 C675,1237 690,1238 700,1245" stroke="#a52f1c" stroke-width="2"/>
<path d="M729.500,1268 C730.500,1255 728.500,1240 727.500,1228" stroke="#e8482b" stroke-width="3"/>
<path d="M727.500,1228 L726.500,1214" stroke="#18181a" stroke-width="2.800"/>
<ellipse cx="728" cy="1203.500" rx="3.200" ry="4.500" stroke="#6a6c58" stroke-width="1.800" transform="rotate(10 728 1203.500)"/>
<path d="M727,1209 L726.500,1214" stroke="#6a6c58" stroke-width="2.200"/>
<path d="M636.500,1212 L637,1210" stroke="#6a6c58" stroke-width="2.200"/>
<!-- red arrow -->
<path d="M620,1207.700 L631,1207.700" stroke="#e0222a" stroke-width="1.300"/>
</g>
<path d="M629.500,1205 L634,1207.700 L629.500,1210.400Z" fill="#e0222a"/>
<!-- labels -->
<g fill="#111">
<text x="202" y="473" font-size="23.7" textLength="187" lengthAdjust="spacingAndGlyphs">Roof Combiner Box</text>
<text x="191.5" y="508" font-size="23.7" textLength="208" lengthAdjust="spacingAndGlyphs">for Solar Panel Wiring</text>
<text x="48" y="707.5" font-size="23.7" textLength="115" lengthAdjust="spacingAndGlyphs">MPPT Solar</text>
<text x="21.5" y="742.5" font-size="23.7" textLength="168" lengthAdjust="spacingAndGlyphs">Charge Controller</text>
<text x="1218" y="491" font-size="23.7" textLength="109" lengthAdjust="spacingAndGlyphs">Solar Panel</text>
<text x="1270.5" y="688.5" font-size="25" fill="#222" textLength="56" lengthAdjust="spacingAndGlyphs">Fuse</text>
<text x="1233" y="965" font-size="23.7" textLength="128.5" lengthAdjust="spacingAndGlyphs">Solar Inverter</text>
<text x="1109" y="1050.5" font-size="25" fill="#222" textLength="161.5" lengthAdjust="spacingAndGlyphs">Battery switch</text>
<text x="1004" y="1282" font-size="23.7" textLength="180" lengthAdjust="spacingAndGlyphs">12V AGM batteries</text>
<text x="248.5" y="646.5" font-size="9.3" fill="#2a2a2a" stroke="#2a2a2a" stroke-width="0.350" textLength="90.5" lengthAdjust="spacingAndGlyphs">30ft PV cable 12AWG</text>
<text x="577" y="1210" font-size="12.3" fill="#222" textLength="37.5" lengthAdjust="spacingAndGlyphs">φ9mm</text>
<text x="592" y="1345.5" font-size="13.6" fill="#222" textLength="85" lengthAdjust="spacingAndGlyphs" xml:space="preserve">8ft  (240cm)</text>
</g>

</svg>
</body></html>
